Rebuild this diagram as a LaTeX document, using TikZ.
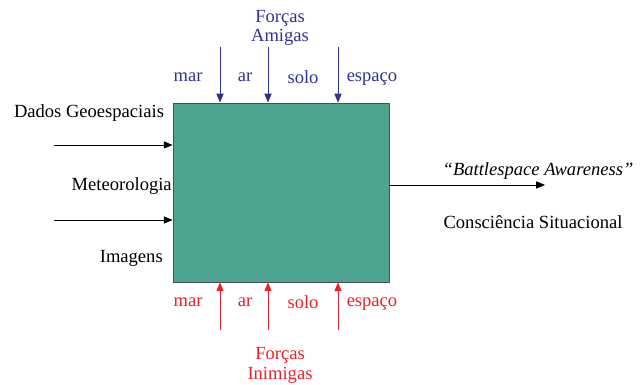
\documentclass[tikz,border=0pt]{standalone}
\usepackage{fontspec}
\setmainfont{Liberation Serif}
\usetikzlibrary{arrows.meta}
\definecolor{csTeal}{RGB}{77,164,145}
\definecolor{csBorder}{RGB}{70,80,78}
\definecolor{csBlue}{RGB}{50,50,150}
\definecolor{csRed}{RGB}{240,30,40}
\begin{document}
\begin{tikzpicture}[x=0.025cm, y=-0.025cm,
  lbl/.style={font=\fontsize{13.2}{15.8}\selectfont, inner sep=0pt},
  blk/.style={draw=csBorder, fill=csTeal, line width=0.6pt, inner sep=0pt},
  arr/.style={-{Triangle[length=2.2mm, width=1.8mm]}, line width=0.5pt}
]
\useasboundingbox (0,0) rectangle (644,385);
% central block
\node[blk, minimum width=5.4cm, minimum height=4.475cm] (Box) at (281,192.5) {};
% friendly forces (top)
\node[lbl, text=csBlue] (FA1) at (280,18) {Forças};
\node[lbl, text=csBlue] (FA2) at (280,37) {Amigas};
\node[lbl, text=csBlue] (TMar) at (188,77) {mar};
\node[lbl, text=csBlue] (TAr) at (245,77) {ar};
\node[lbl, text=csBlue] (TSolo) at (303,77) {solo};
\node[lbl, text=csBlue] (TEsp) at (372,79) {espaço};
\foreach \n/\x in {a/220, b/268, c/338} {
  \coordinate (T\n) at (\x,47);
  \draw[arr, csBlue] (T\n) -- (T\n |- Box.north);
}
% enemy forces (bottom)
\node[lbl, text=csRed] (BMar) at (188,302) {mar};
\node[lbl, text=csRed] (BAr) at (245,302) {ar};
\node[lbl, text=csRed] (BSolo) at (303,302) {solo};
\node[lbl, text=csRed] (BEsp) at (372,304) {espaço};
\node[lbl, text=csRed] (FI1) at (280,355) {Forças};
\node[lbl, text=csRed] (FI2) at (280,375) {Inimigas};
\foreach \n/\x in {a/220, b/268, c/338} {
  \coordinate (B\n) at (\x,330);
  \draw[arr, csRed] (B\n) -- (B\n |- Box.south);
}
% inputs (left)
\node[lbl] (Geo) at (89,113) {Dados Geoespaciais};
\node[lbl, anchor=east] (Met) at (172,186) {Meteorologia};
\node[lbl, anchor=east] (Img) at (163,258) {Imagens};
\coordinate (In1) at (54,145);
\coordinate (In2) at (54,220);
\draw[arr] (In1) -- (In1 -| Box.west);
\draw[arr] (In2) -- (In2 -| Box.west);
% output (right)
\coordinate (Out) at (545,185);
\draw[arr] (Out -| Box.east) -- (Out);
\node[lbl, font=\fontsize{13.2}{15.8}\selectfont\itshape] (BA) at (538,171) {``Battlespace Awareness''};
\node[lbl] (CS) at (533,222) {Consciência Situacional};
\end{tikzpicture}
\end{document}
